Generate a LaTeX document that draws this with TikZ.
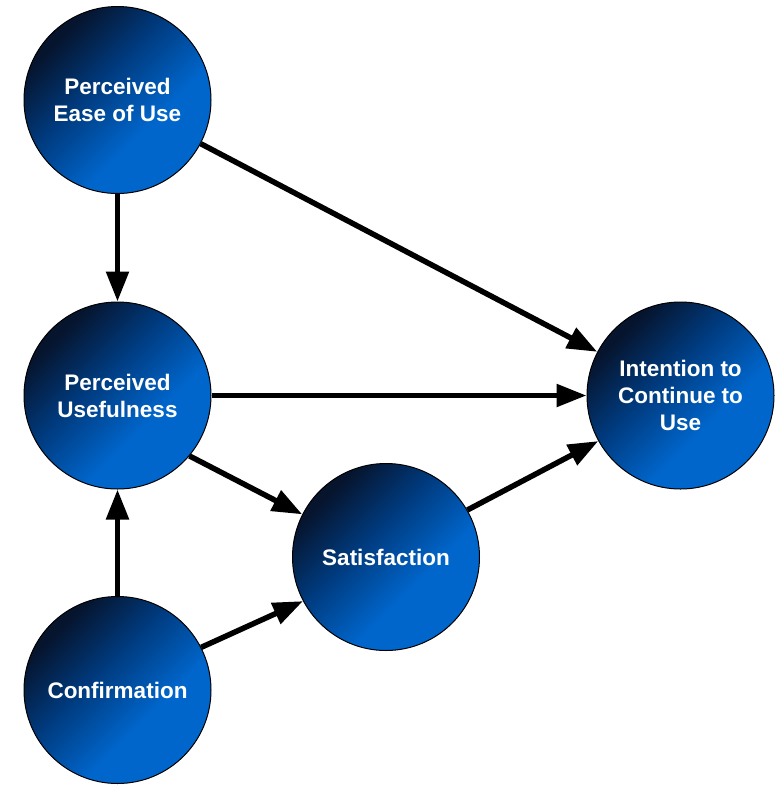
\documentclass[tikz,border=0pt]{standalone}
\usepackage{fontspec}
\setmainfont{Liberation Sans}
\usetikzlibrary{arrows.meta}

\definecolor{orbdark}{RGB}{6,20,45}
\definecolor{orbmid}{RGB}{0,58,125}
\definecolor{orbbright}{RGB}{0,102,204}

% diagonal fill of the construct circles: navy at the upper left, bright blue at the lower right
\pgfdeclarehorizontalshading{orb}{100bp}{%
  color(0bp)=(orbdark); color(27bp)=(orbdark); color(43bp)=(orbmid);
  color(61bp)=(orbbright); color(100bp)=(orbbright)}

\begin{document}
\begin{tikzpicture}[x=1pt,y=-1pt,
  construct/.style={circle, draw=black, line width=1pt, minimum size=187pt,
    inner sep=0pt, shading=orb, shading angle=-45, text=white, align=center,
    font=\bfseries\fontsize{22.5}{27}\selectfont},
  link/.style={line width=5.5pt, -{Triangle[length=30pt,width=22pt]}}]

  \useasboundingbox (0,0) rectangle (782,785);

  \node[construct] (peou) at (117.5,100)   {Perceived\\Ease of Use};
  \node[construct] (pu)   at (117.5,395.5) {Perceived\\Usefulness};
  \node[construct] (conf) at (117.5,690)   {Confirmation};
  \node[construct] (sat)  at (386,557)     {Satisfaction};
  \node[construct] (icu)  at (680.5,395.5) {Intention to\\Continue to\\Use};

  \draw[link] (peou) -- (pu);
  \draw[link] (peou) -- (icu);
  \draw[link] (pu) -- (icu);
  \draw[link] (pu.-40) -- (sat.153);
  \draw[link] (conf) -- (pu);
  \draw[link] (conf.27) -- (sat.208);
  \draw[link] (sat.30) -- (icu.209);
\end{tikzpicture}
\end{document}
